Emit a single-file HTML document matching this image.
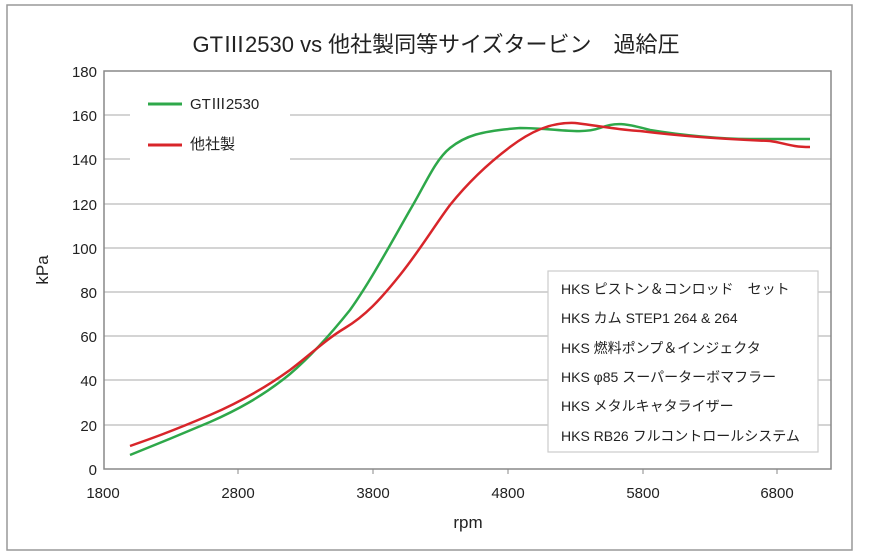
<html><head><style>body{margin:0;background:#fff}text{font-family:"Liberation Sans","Noto Sans CJK JP",sans-serif;fill:#222}</style></head><body>
<svg width="872" height="556" xmlns="http://www.w3.org/2000/svg">
<rect x="7" y="5" width="845" height="545" fill="#fff" stroke="#999" stroke-width="1.5"/>
<text x="436" y="52" font-size="22" text-anchor="middle">GTⅢ2530 vs 他社製同等サイズタービン　過給圧</text>
<g stroke="#bbb" stroke-width="1.2">
<line x1="104" y1="115" x2="831" y2="115"/><line x1="104" y1="159" x2="831" y2="159"/><line x1="104" y1="204" x2="831" y2="204"/><line x1="104" y1="248" x2="831" y2="248"/><line x1="104" y1="292" x2="831" y2="292"/><line x1="104" y1="336" x2="831" y2="336"/><line x1="104" y1="380" x2="831" y2="380"/><line x1="104" y1="425" x2="831" y2="425"/>
</g>
<rect x="104" y="71" width="727" height="398" fill="none" stroke="#888" stroke-width="1.5"/>
<g stroke="#888"><line x1="238" y1="469" x2="238" y2="474"/><line x1="373" y1="469" x2="373" y2="474"/><line x1="508" y1="469" x2="508" y2="474"/><line x1="643" y1="469" x2="643" y2="474"/><line x1="777" y1="469" x2="777" y2="474"/></g>
<g font-size="15" text-anchor="end">
<text x="97" y="77">180</text><text x="97" y="121">160</text><text x="97" y="165">140</text><text x="97" y="210">120</text><text x="97" y="254">100</text><text x="97" y="298">80</text><text x="97" y="342">60</text><text x="97" y="386">40</text><text x="97" y="431">20</text><text x="97" y="475">0</text>
</g>
<g font-size="15" text-anchor="middle">
<text x="103" y="498">1800</text><text x="238" y="498">2800</text><text x="373" y="498">3800</text><text x="508" y="498">4800</text><text x="643" y="498">5800</text><text x="777" y="498">6800</text>
<text x="468" y="528" font-size="17">rpm</text>
</g>
<text transform="translate(48,270) rotate(-90)" font-size="17" text-anchor="middle">kPa</text>
<rect x="130" y="92" width="160" height="68" fill="#fff"/>
<line x1="148" y1="104" x2="182" y2="104" stroke="#2ea84a" stroke-width="3"/>
<text x="190" y="109" font-size="15">GTⅢ2530</text>
<line x1="148" y1="145" x2="182" y2="145" stroke="#d8252a" stroke-width="3"/>
<text x="190" y="149" font-size="15">他社製</text>
<path d="M130,455 C150,447 170,439 210,422 C235,411 262,397 290,374 C310,357 330,335 350,310 C370,282 390,245 410,210 C425,185 435,160 450,148 C465,136 480,131 520,128 C555,128 580,135 600,128 C615,122 625,123 650,130 C680,135 720,139 750,139 L810,139" fill="none" stroke="#2ea84a" stroke-width="2.5"/>
<path d="M130,446 C150,439 170,432 210,415 C240,402 265,388 290,370 C310,355 325,340 345,328 C365,316 380,300 400,275 C420,250 435,225 450,205 C470,180 490,162 510,147 C530,132 550,122 575,123 C600,126 620,130 640,131 C680,136 720,139 770,141 C785,143 790,147 810,147" fill="none" stroke="#d8252a" stroke-width="2.5"/>
<rect x="548" y="271" width="270" height="181" fill="#fff" stroke="#ccc" stroke-width="1.2"/>
<g font-size="14">
<text x="561" y="294">HKS ピストン＆コンロッド　セット</text>
<text x="561" y="323">HKS カム STEP1 264 &amp; 264</text>
<text x="561" y="353">HKS 燃料ポンプ＆インジェクタ</text>
<text x="561" y="382">HKS φ85 スーパーターボマフラー</text>
<text x="561" y="411">HKS メタルキャタライザー</text>
<text x="561" y="441">HKS RB26 フルコントロールシステム</text>
</g>
</svg>
</body></html>
